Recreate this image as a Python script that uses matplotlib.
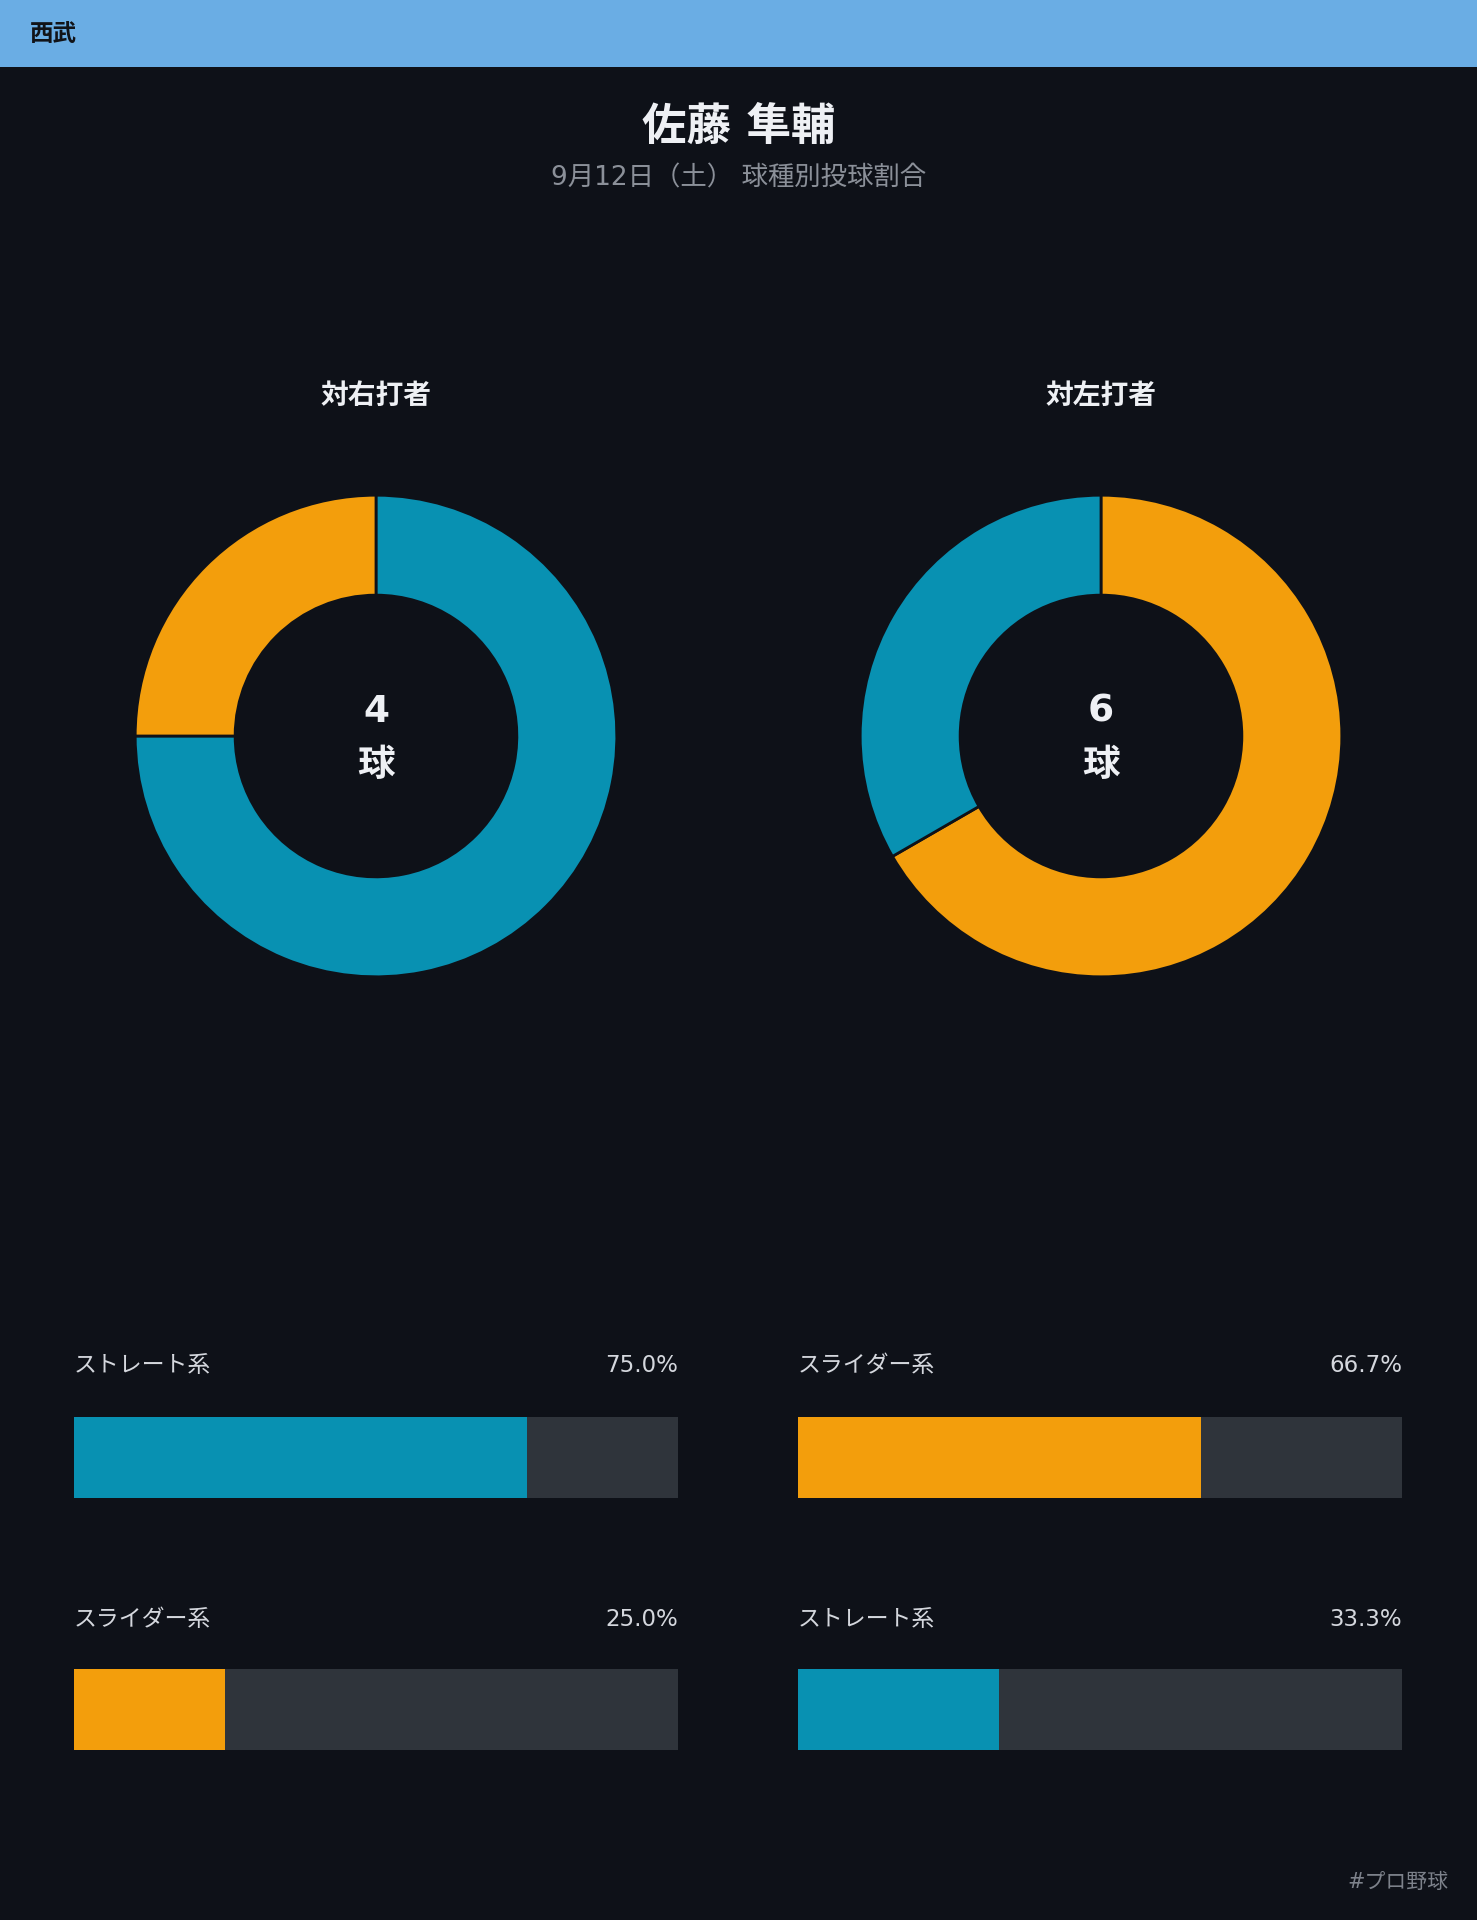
import matplotlib
matplotlib.use("Agg")
import matplotlib.pyplot as plt
from matplotlib.patches import Rectangle

plt.rcParams['font.family'] = ['DejaVu Sans', 'Noto Sans CJK JP']

team = "西武"
pitcher = "佐藤 隼輔"
subtitle = "9月12日（土） 球種別投球割合"
panel_titles = ["対右打者", "対左打者"]
# pitch types and counts per batter side (ordered by share)
pitches_right = ["ストレート系", "スライダー系"]
counts_right = [3, 1]
pitches_left = ["スライダー系", "ストレート系"]
counts_left = [4, 2]
pitch_colors = {"ストレート系": "#0891b2", "スライダー系": "#f39e0c"}

BG = "#0e1118"
TRACK = "#2f343b"
W, H = 1477, 1920

fig = plt.figure(figsize=(W / 100, H / 100), dpi=100, facecolor=BG)


def fx(x):
    return x / W


def fy(y):
    return 1 - y / H


# header strip
fig.patches.append(Rectangle((0, fy(67)), 1, 67 / H, transform=fig.transFigure,
                             facecolor="#6aade4", edgecolor="none"))
fig.text(fx(30), fy(34), team, color="#111318", fontsize=17, fontweight="bold",
         ha="left", va="center")

fig.text(0.5, fy(127), pitcher, color="#eef0f4", fontsize=32, fontweight="bold",
         ha="center", va="center")
fig.text(0.5, fy(178), subtitle, color="#8b9099", fontsize=19,
         ha="center", va="center")

panels = [(pitches_right, counts_right), (pitches_left, counts_left)]
centers_x = [376, 1101]
bar_lefts = [74, 798]
bar_width = 604
R = 242
cy = 736

for i, (names, counts) in enumerate(panels):
    cx = centers_x[i]
    fig.text(fx(cx), fy(396), panel_titles[i], color="#eef0f4", fontsize=20,
             fontweight="bold", ha="center", va="center")

    ax = fig.add_axes([fx(cx - R), fy(cy + R), 2 * R / W, 2 * R / H])
    ax.pie(counts, colors=[pitch_colors[n] for n in names], startangle=90,
           counterclock=False, radius=1.0,
           wedgeprops=dict(width=0.415, edgecolor=BG, linewidth=2))
    ax.set_xlim(-1.005, 1.005)
    ax.set_ylim(-1.005, 1.005)
    ax.set_aspect("equal")
    ax.axis("off")
    total = sum(counts)
    ax.text(0, 0.10, str(total), color="#eef0f4", fontsize=27, fontweight="bold",
            ha="center", va="center")
    ax.text(0, -0.125, "球", color="#eef0f4", fontsize=27, fontweight="bold",
            ha="center", va="center")

    # share bars
    for j, (n, c) in enumerate(zip(names, counts)):
        share = c / total * 100
        top = 1417 + j * 252
        label_y = 1366 + j * 253
        fig.text(fx(bar_lefts[i]), fy(label_y), n, color="#d4d7dd", fontsize=16.5,
                 ha="left", va="center")
        fig.text(fx(bar_lefts[i] + bar_width), fy(label_y), f"{share:.1f}%",
                 color="#d4d7dd", fontsize=16.5, ha="right", va="center")
        bax = fig.add_axes([fx(bar_lefts[i]), fy(top + 81), bar_width / W, 81 / H])
        bax.barh([0], [100], height=1, color=TRACK)
        bax.barh([0], [share], height=1, color=pitch_colors[n])
        bax.set_xlim(0, 100)
        bax.set_ylim(-0.5, 0.5)
        bax.axis("off")

fig.text(fx(1448), fy(1882), "#プロ野球", color="#7d828b", fontsize=15,
         ha="right", va="center")

fig.savefig("out.png", dpi=100, facecolor=BG)
